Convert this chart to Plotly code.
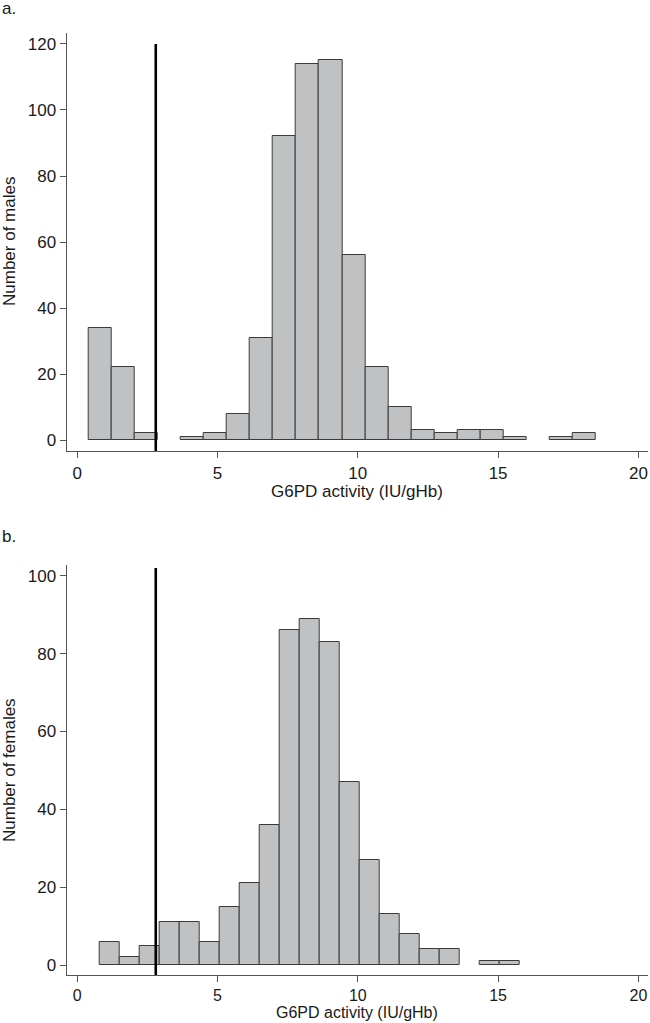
import plotly.graph_objects as go

# ---------------- data ----------------
male_bin_edges = [0.41, 1.23, 2.05, 2.87, 3.70, 4.52, 5.34, 6.16, 6.98, 7.80, 8.62, 9.45,
                  10.27, 11.09, 11.91, 12.73, 13.55, 14.37, 15.19, 16.02, 16.84, 17.66, 18.48]
male_counts = [34, 22, 2, 0, 1, 2, 8, 31, 92, 114, 115, 56, 22, 10, 3, 2, 3, 3, 1, 0, 1, 2]

female_bin_edges = [0.81, 1.52, 2.23, 2.95, 3.66, 4.37, 5.08, 5.79, 6.51, 7.22, 7.93, 8.64,
                    9.35, 10.07, 10.78, 11.49, 12.20, 12.91, 13.63, 14.34, 15.05, 15.76]
female_counts = [6, 2, 5, 11, 11, 6, 15, 21, 36, 86, 89, 83, 47, 27, 13, 8, 4, 4, 0, 1, 1]

threshold = 2.8
male_line_top = 120
female_line_top = 102

x_ticks = [0, 5, 10, 15, 20]
male_y_ticks = [0, 20, 40, 60, 80, 100, 120]
female_y_ticks = [0, 20, 40, 60, 80, 100]

x_title = "G6PD activity (IU/gHb)"
male_y_title = "Number of males"
female_y_title = "Number of females"
panel_labels = ["a.", "b."]

# ---------------- style ----------------
FONT = "Liberation Sans, Arial, Helvetica, sans-serif"
TXT = "#1a1a1a"
AX = "#555555"
BAR_FILL = "#c0c1c3"
BAR_LINE = "#3a3a3a"
W, H = 650, 1023


def bars(edges, counts, xa, ya):
    lefts, widths, ys = [], [], []
    for i, c in enumerate(counts):
        if c > 0:
            lefts.append(edges[i])
            widths.append(edges[i + 1] - edges[i])
            ys.append(c)
    return go.Bar(x=lefts, y=ys, width=widths, offset=0, base=0,
                  marker=dict(color=BAR_FILL, line=dict(color=BAR_LINE, width=1)),
                  xaxis=xa, yaxis=ya, showlegend=False, hoverinfo="skip")


fig = go.Figure()
fig.add_trace(bars(male_bin_edges, male_counts, "x", "y"))
fig.add_trace(bars(female_bin_edges, female_counts, "x2", "y2"))

# y ranges (axis line sits slightly below zero)
top_yr = [-3.33, 123.33]
bot_yr = [-2.57, 102.75]
xr = [-0.374, 20.342]

fig.add_trace(go.Scatter(x=[threshold, threshold], y=[top_yr[0], male_line_top], mode="lines",
                         line=dict(color="black", width=2.6), xaxis="x", yaxis="y",
                         showlegend=False, hoverinfo="skip"))
fig.add_trace(go.Scatter(x=[threshold, threshold], y=[bot_yr[0], female_line_top], mode="lines",
                         line=dict(color="black", width=2.6), xaxis="x2", yaxis="y2",
                         showlegend=False, hoverinfo="skip"))

xdom = [66.7 / W, 648 / W]
top_dom = [(H - 451) / H, (H - 33) / H]
bot_dom = [(H - 975) / H, (H - 565) / H]

axis_common = dict(showline=True, linecolor=AX, linewidth=1.2, ticks="outside", ticklen=6,
                   tickwidth=1.2, tickcolor=AX, showgrid=False, zeroline=False)
tick17 = dict(family=FONT, size=17, color=TXT)
tick16 = dict(family=FONT, size=16, color=TXT)

fig.update_layout(
    width=W, height=H,
    margin=dict(l=0, r=0, t=0, b=0, pad=0),
    paper_bgcolor="white", plot_bgcolor="white",
    bargap=0,
    xaxis=dict(domain=xdom, range=xr, tickvals=x_ticks, anchor="y", tickfont=tick17, **axis_common),
    yaxis=dict(domain=top_dom, range=top_yr, tickvals=male_y_ticks, anchor="x", tickfont=tick17,
               **axis_common),
    xaxis2=dict(domain=xdom, range=xr, tickvals=x_ticks, anchor="y2", tickfont=tick16,
                **axis_common),
    yaxis2=dict(domain=bot_dom, range=bot_yr, tickvals=female_y_ticks, anchor="x2", tickfont=tick17,
                **axis_common),
)

ann_font = dict(family=FONT, size=17, color=TXT)
annotations = [
    dict(text=x_title, xref="x domain", yref="y domain", x=0.5, y=-(491 - 451) / 418,
         xanchor="center", yanchor="middle", showarrow=False, font=ann_font),
    dict(text=x_title, xref="x2 domain", yref="paper", x=0.5, y=0,
         xanchor="center", yanchor="bottom", showarrow=False,
         font=dict(family=FONT, size=16, color=TXT)),
    dict(text=male_y_title, xref="paper", yref="y domain", x=9 / W, y=0.5, textangle=-90,
         xanchor="center", yanchor="middle", showarrow=False, font=ann_font),
    dict(text=female_y_title, xref="paper", yref="y2 domain", x=9 / W, y=0.5, textangle=-90,
         xanchor="center", yanchor="middle", showarrow=False, font=ann_font),
    dict(text=panel_labels[0], xref="paper", yref="paper", x=0, y=1 - 9 / H,
         xanchor="left", yanchor="middle", showarrow=False, font=dict(family=FONT, size=17, color=TXT)),
    dict(text=panel_labels[1], xref="paper", yref="paper", x=0, y=1 - 536 / H,
         xanchor="left", yanchor="middle", showarrow=False, font=dict(family=FONT, size=17, color=TXT)),
]
fig.update_layout(annotations=annotations)

fig.write_html("out.html", config={"displayModeBar": False},
               post_script="document.body.style.margin='0';document.body.style.overflow='hidden';")
